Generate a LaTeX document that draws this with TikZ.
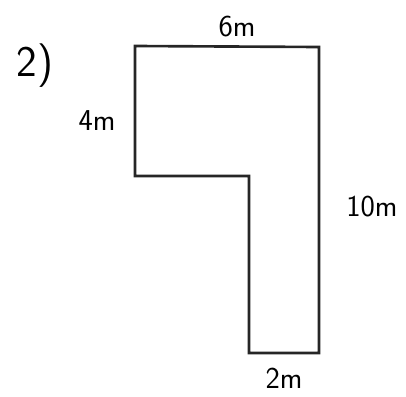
\documentclass[tikz,border=0pt]{standalone}
\usepackage{tikz}
\usetikzlibrary{positioning}
\tikzset{
  wall/.style={black!85,line width=1.5pt,line join=miter},
  dimlabel/.style={font=\sffamily\LARGE,inner sep=1pt},
}
\begin{document}
\begin{tikzpicture}[x=0.02cm,y=-0.02cm]
  \useasboundingbox (0,0) rectangle (406,396);
  % outline corners
  \coordinate (tl) at (135,46);
  \coordinate (tr) at (319,47);
  \coordinate (br) at (319,353);
  \coordinate (bl) at (249,353);
  \coordinate (ni) at (249,176);
  \coordinate (nl) at (135,176);
  \draw[wall] (tl) -- (tr) -- (br) -- (bl) -- (ni) -- (nl) -- cycle;
  % labels
  \node[font=\sffamily\Huge] (num) at (35,66) {2)};
  \node[dimlabel] (top) at (237,27) {6m};
  \node[dimlabel] (left) at (97,121) {4m};
  \node[dimlabel] (right) at (372,207) {10m};
  \node[dimlabel] (bottom) at (284,378) {2m};
\end{tikzpicture}
\end{document}
